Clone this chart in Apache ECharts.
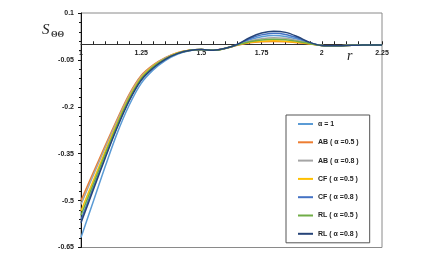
<!DOCTYPE html>
<html><head><meta charset="utf-8">
<script src="https://cdn.jsdelivr.net/npm/echarts@6/dist/echarts.min.js"></script>
<style>html,body{margin:0;padding:0;background:#fff}#c{width:439px;height:269px}</style>
</head><body><div id="c"></div>
<script>
const rValues = [1.00,1.05,1.10,1.15,1.20,1.25,1.30,1.35,1.40,1.45,1.50,1.55,1.60,1.65,1.70,1.75,1.80,1.85,1.90,1.95,2.00,2.05,2.10,2.15,2.20,2.25];
const alpha1 = [-0.618,-0.505,-0.392,-0.285,-0.195,-0.125,-0.082,-0.052,-0.032,-0.021,-0.017,-0.019,-0.013,-0.001,0.014,0.024,0.028,0.025,0.016,0.004,-0.004,-0.005,-0.004,-0.003,-0.002,-0.002];
const ab05 = [-0.500,-0.412,-0.325,-0.240,-0.160,-0.100,-0.066,-0.043,-0.027,-0.019,-0.017,-0.019,-0.013,-0.003,0.0045,0.008,0.009,0.008,0.005,0.001,-0.004,-0.005,-0.004,-0.003,-0.002,-0.002];
const ab08 = [-0.512,-0.421,-0.332,-0.245,-0.164,-0.103,-0.068,-0.044,-0.028,-0.019,-0.017,-0.019,-0.013,-0.002,0.0105,0.018,0.021,0.019,0.012,0.003,-0.004,-0.005,-0.004,-0.003,-0.002,-0.002];
const cf05 = [-0.533,-0.438,-0.344,-0.253,-0.170,-0.107,-0.070,-0.046,-0.028,-0.019,-0.017,-0.019,-0.013,-0.002,0.0055,0.0095,0.011,0.010,0.0065,0.0015,-0.004,-0.005,-0.004,-0.003,-0.002,-0.002];
const cf08 = [-0.561,-0.460,-0.360,-0.263,-0.178,-0.113,-0.074,-0.048,-0.030,-0.020,-0.017,-0.019,-0.013,-0.001,0.0175,0.030,0.035,0.0315,0.020,0.005,-0.004,-0.005,-0.004,-0.003,-0.002,-0.002];
const rl05 = [-0.547,-0.449,-0.352,-0.258,-0.174,-0.110,-0.072,-0.047,-0.029,-0.020,-0.017,-0.019,-0.013,-0.002,0.008,0.014,0.016,0.0145,0.009,0.002,-0.004,-0.005,-0.004,-0.003,-0.002,-0.002];
const rl08 = [-0.571,-0.468,-0.365,-0.267,-0.181,-0.115,-0.076,-0.048,-0.030,-0.020,-0.017,-0.019,-0.013,0.000,0.021,0.036,0.042,0.038,0.024,0.006,-0.004,-0.005,-0.004,-0.003,-0.002,-0.002];
const seriesNames = ['α = 1','AB ( α =0.5 )','AB ( α =0.8 )','CF ( α =0.5 )','CF ( α =0.8 )','RL ( α =0.5 )','RL ( α =0.8 )'];
const seriesValues = [alpha1, ab05, ab08, cf05, cf08, rl05, rl08];
const seriesColors = ['#5B9BD5','#ED7D31','#A5A5A5','#FFC000','#4472C4','#70AD47','#264478'];
const xLabels = [1, 1.25, 1.5, 1.75, 2, 2.25];
const yMajorTicks = [-0.65,-0.5,-0.35,-0.2,-0.05,0.1];
const yMinorTicks = [-0.65,-0.62,-0.59,-0.56,-0.53,-0.5,-0.47,-0.44,-0.41,-0.38,-0.35,-0.32,-0.29,-0.26,-0.23,-0.2,-0.17,-0.14,-0.11,-0.08,-0.05,-0.02,0.01,0.04,0.07,0.1];

const font = 'Liberation Sans';
const gridTop = 13, gridBottom = 21.5, H = 269;
const yMin = -0.65, yMax = 0.1;
const zeroOffset = (H - gridTop - gridBottom) * (0 - yMin) / (yMax - yMin);
const gridRect = {left: 81, right: 57, top: gridTop, bottom: gridBottom, containLabel: false};

const chart = echarts.init(document.getElementById('c'), null, {renderer:'canvas'});
chart.setOption({
  animation: false,
  backgroundColor: '#fff',
  grid: [
    Object.assign({show: true, borderColor: '#8a8a8a', borderWidth: 1}, gridRect),
    Object.assign({show: false}, gridRect)
  ],
  xAxis: [{
    gridIndex: 0, type: 'value', min: 1, max: 2.25, interval: 0.25,
    axisLine: {show: true, onZero: true, onZeroAxisIndex: 0, lineStyle: {color: '#333', width: 1}},
    axisTick: {show: true, inside: true, length: 3, lineStyle: {color: '#222'}},
    minorTick: {show: true, splitNumber: 5, length: 3, lineStyle: {color: '#222'}},
    splitLine: {show: false}, minorSplitLine: {show: false},
    axisLabel: {show: true, fontSize: 7, color: 'rgba(0,0,0,0)'}
  },{
    gridIndex: 1, type: 'value', min: 1, max: 2.25, position: 'bottom', offset: -zeroOffset,
    axisLine: {show: false, onZero: false},
    axisTick: {show: false},
    splitLine: {show: false},
    axisLabel: {show: true, customValues: xLabels.slice(1), margin: 5, fontSize: 7, fontWeight: 'bold', fontFamily: font, color: '#222', showMinLabel: true, showMaxLabel: true, hideOverlap: false}
  }],
  yAxis: [{
    gridIndex: 0, type: 'value', min: yMin, max: yMax, position: 'left',
    axisLine: {show: true, onZero: false, lineStyle: {color: '#111', width: 1}},
    axisTick: {show: true, customValues: yMajorTicks, length: 3, lineStyle: {color: '#111'}},
    axisLabel: {show: true, customValues: yMajorTicks, margin: 7, fontSize: 7, fontWeight: 'bold', fontFamily: font, color: '#222'},
    splitLine: {show: false}
  },{
    gridIndex: 0, type: 'value', min: yMin, max: yMax, position: 'left', offset: 0,
    axisLine: {show: false, onZero: false},
    axisTick: {show: true, customValues: yMinorTicks, length: 2, lineStyle: {color: '#111'}},
    axisLabel: {show: false},
    splitLine: {show: false}
  },{
    gridIndex: 1, type: 'value', min: yMin, max: yMax, show: false
  }],
  legend: {
    orient: 'vertical', left: 286, top: 115, padding: [4, 11, 4, 12],
    itemGap: 8.3, itemWidth: 15, itemHeight: 2, icon: 'rect',
    borderColor: '#555', borderWidth: 1, backgroundColor: '#fff',
    textStyle: {fontSize: 7, lineHeight: 10, fontWeight: 'bold', fontFamily: font, color: '#222'},
    data: seriesNames
  },
  graphic: [
    {id: 'sName', type: 'text', left: 42, top: 23, style: {text: 'S', font: 'italic 15px "Liberation Serif"', fill: '#222'}},
    {id: 'sSub', type: 'text', left: 51, top: 30, style: {text: 'ΘΘ', font: 'bold 8.5px "Liberation Serif"', fill: '#333'}},
    {id: 'rName', type: 'text', left: 347, top: 49, style: {text: 'r', font: 'italic 14px "Liberation Serif"', fill: '#222'}}
  ],
  series: seriesNames.map((n, i) => ({
    name: n, type: 'line', xAxisIndex: 0, yAxisIndex: 0, smooth: 0.35, symbol: 'none', showSymbol: false,
    lineStyle: {width: 1.5, color: seriesColors[i]}, itemStyle: {color: seriesColors[i]},
    data: rValues.map((x, j) => [x, seriesValues[i][j]])
  }))
});
// first r tick label, positioned through the chart's own axis scales at r = 1, S = 0
let px = chart.convertToPixel({xAxisIndex: 0}, xLabels[0]);
let py = chart.convertToPixel({yAxisIndex: 0}, 0);
if (Array.isArray(px)) px = px[0];
if (Array.isArray(py)) py = py[1];
if (typeof px === 'number' && isFinite(px) && typeof py === 'number' && isFinite(py)) {
  chart.setOption({
    graphic: [{id: 'xLab1', type: 'text', x: px, y: py + 5, z: 100,
      style: {text: String(xLabels[0]), fontSize: 7, fontWeight: 'bold', fontFamily: font, fill: '#222', align: 'center', verticalAlign: 'top'}}]
  });
}
</script>
</body></html>
